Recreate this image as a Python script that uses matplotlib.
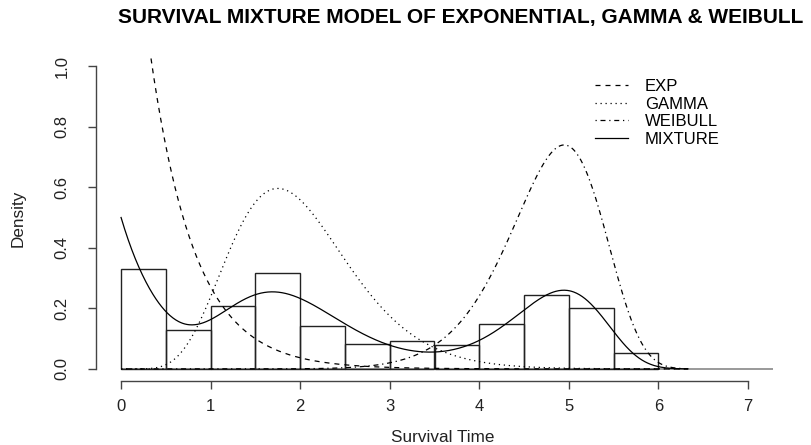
import math
import numpy as np
import matplotlib
matplotlib.use("Agg")
import matplotlib.pyplot as plt
from matplotlib.lines import Line2D

plt.rcParams['font.family'] = ['Liberation Sans', 'DejaVu Sans']

# ---------------- data ----------------
bin_edges = [0.0, 0.5, 1.0, 1.5, 2.0, 2.5, 3.0, 3.5, 4.0, 4.5, 5.0, 5.5, 6.0]
bin_density = [0.330, 0.129, 0.208, 0.317, 0.142, 0.083, 0.092, 0.079, 0.149, 0.244, 0.201, 0.053]

exp_rate = 2.0
gamma_shape = 8.0
gamma_rate = 4.0
weib_shape = 10.0
weib_scale = 5.0
mix_weights = [0.25, 0.40, 0.35]
curve_range = [0.0, 6.33]

legend_labels = ["EXP", "GAMMA", "WEIBULL", "MIXTURE"]
x_ticks = [0, 1, 2, 3, 4, 5, 6, 7]
y_ticks = [0.0, 0.2, 0.4, 0.6, 0.8, 1.0]
title = "SURVIVAL MIXTURE MODEL OF EXPONENTIAL, GAMMA & WEIBULL"


def d_exp(x):
    return exp_rate * np.exp(-exp_rate * x)


def d_gamma(x):
    return (gamma_rate ** gamma_shape) * x ** (gamma_shape - 1) * np.exp(-gamma_rate * x) / math.gamma(gamma_shape)


def d_weib(x):
    return (weib_shape / weib_scale) * (x / weib_scale) ** (weib_shape - 1) * np.exp(-(x / weib_scale) ** weib_shape)


W, H = 811, 445
fig = plt.figure(figsize=(W / 100, H / 100), dpi=100)
ax = fig.add_axes([96 / W, (H - 381) / H, (773 - 96) / W, (381 - 54) / H])
ax.set_xlim(-0.28, 7.28)
ax.set_ylim(-0.04, 1.04)

# histogram
widths = np.diff(bin_edges)
ax.bar(bin_edges[:-1], bin_density, width=widths, align='edge', facecolor='none',
       edgecolor='#222222', linewidth=1.0, zorder=2)
ax.hlines(0, 0, ax.get_xlim()[1], color='#888888', linewidth=1.2, zorder=1)

xs = np.linspace(curve_range[0], curve_range[1], 800)
fe, fg, fw = d_exp(xs), d_gamma(xs), d_weib(xs)
fm = mix_weights[0] * fe + mix_weights[1] * fg + mix_weights[2] * fw

styles = [(0, (4, 4)), (0, (1, 3)), (0, (1, 3, 4, 3)), '-']
lw = 0.9
for ys, ls in zip([fe, fg, fw, fm], styles):
    ax.plot(xs, ys, color='black', linestyle=ls, linewidth=lw, zorder=3)

# axes styling (R-like)
for s in ['top', 'right']:
    ax.spines[s].set_visible(False)
ax.spines['left'].set_bounds(0, 1)
ax.spines['bottom'].set_bounds(0, 7)
for s in ['left', 'bottom']:
    ax.spines[s].set_color('#444444')
    ax.spines[s].set_linewidth(1.0)
ax.set_xticks(x_ticks)
ax.set_xticklabels([str(t) for t in x_ticks])
ax.set_yticks(y_ticks)
ax.set_yticklabels([f"{t:.1f}" for t in y_ticks], rotation=90, va='center')
ax.tick_params(axis='both', direction='out', length=6, width=1.0, color='#444444',
               labelsize=12, labelcolor='#222222')
ax.tick_params(axis='x', pad=7)
ax.tick_params(axis='y', pad=13)

fig.text(18 / W, 1 - 218 / H, "Density", rotation=90, ha='center', va='center',
         fontsize=12.3, color='#222222')
fig.text(443 / W, 1 - 437 / H, "Survival Time", ha='center', va='center',
         fontsize=12.3, color='#222222')
fig.text(461 / W, 1 - 18 / H, title, ha='center', va='center', fontsize=15,
         fontweight='bold', color='black')

handles = [Line2D([], [], color='black', linestyle=ls, linewidth=lw) for ls in styles]
fs = 12
fpx = fs * 100 / 72
ax.legend(handles, legend_labels, loc='upper left',
          bbox_to_anchor=(595 / W, 1 - 79 / H), bbox_transform=fig.transFigure,
          frameon=False, fontsize=fs, handlelength=33 / fpx, handletextpad=17 / fpx,
          labelspacing=0.16, borderpad=0, borderaxespad=0)

fig.savefig("out.png", dpi=100)
